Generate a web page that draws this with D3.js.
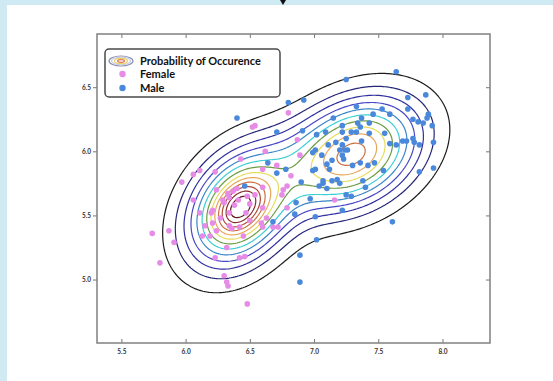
<!DOCTYPE html>
<html>
<head>
<meta charset="utf-8">
<script src="https://cdn.jsdelivr.net/npm/d3@7"></script>
<style>
  body { margin: 0; background: #cfeaf3; }
  svg { display: block; }
  .tick text { font-family: Lato, "DejaVu Sans", sans-serif; font-weight: bold; font-size: 6.5px; fill: #333; }
  .legend text { font-family: Lato, "DejaVu Sans", sans-serif; font-weight: bold; font-size: 11px; fill: #111; }
</style>
</head>
<body>
<div id="chart"></div>
<script>
const svgWidth = 553
const svgHeight = 381

const xTicks = [5.5, 6.0, 6.5, 7.0, 7.5, 8.0]
const yTicks = [5.0, 5.5, 6.0, 6.5]

// female points
const femaleX = [6.54, 6.52, 6.80, 6.62, 6.43, 6.71, 6.60, 6.11, 6.06, 6.23, 5.97, 6.82, 6.87, 6.89, 6.79,
  6.24, 6.33, 6.34, 6.37, 6.40, 6.48, 6.60, 6.75, 6.76, 6.06, 6.21, 6.29, 6.30, 6.41, 6.60, 6.79,
  6.11, 6.20, 6.34, 6.63, 6.59, 6.21, 6.34, 6.42, 6.24, 5.74, 5.87, 5.91, 6.13, 6.19, 6.60, 6.72,
  6.32, 6.23, 6.42, 6.46, 5.80, 6.30, 6.32, 6.33, 6.48, 6.47, 6.36, 6.45, 6.68, 7.16,
  6.50, 6.54, 6.38, 6.27, 6.15, 6.50]
const femaleY = [6.20, 6.19, 6.30, 6.00, 5.94, 5.89, 5.86, 5.85, 5.82, 5.84, 5.76, 5.81, 6.09, 5.97, 5.73,
  5.70, 5.67, 5.64, 5.69, 5.71, 5.65, 5.72, 5.66, 5.70, 5.62, 5.54, 5.62, 5.60, 5.62, 5.56, 5.56,
  5.52, 5.52, 5.52, 5.48, 5.44, 5.44, 5.42, 5.41, 5.38, 5.36, 5.38, 5.29, 5.34, 5.34, 5.41, 5.41,
  5.25, 5.17, 5.17, 5.18, 5.13, 5.03, 4.98, 4.95, 4.81, 5.52, 5.40, 5.34, 5.41, 5.62,
  5.59, 5.66, 5.58, 5.48, 5.42, 5.46]

// male points
const maleX = [6.40, 6.80, 6.71, 6.64, 6.78, 6.71, 6.91, 7.02, 7.01, 7.06, 6.90, 6.99, 6.46, 6.86, 6.68,
  6.89, 7.02, 6.89, 7.64, 7.25, 7.87, 7.73, 6.92, 7.33, 7.15, 7.46, 7.53, 7.59, 7.73, 7.89, 7.88,
  7.77, 7.81, 7.85, 7.92, 7.37, 7.43, 7.34, 7.36, 7.29, 7.33, 7.09, 7.22, 7.22, 7.25, 7.37, 7.43,
  7.55, 7.59, 7.64, 7.69, 7.72, 7.77, 7.78, 7.93, 7.82, 7.17, 7.22, 7.24, 7.26, 7.20, 7.11, 6.99,
  7.10, 7.12, 7.14, 7.01, 7.23, 7.22, 7.30, 7.36, 7.42, 7.47, 7.54, 7.82, 7.93, 7.04, 7.07, 7.10,
  7.14, 7.18, 7.20, 7.07, 7.38, 7.25, 7.29, 6.97, 6.85, 7.01, 7.22, 7.61, 7.40]
const maleY = [6.26, 6.38, 6.15, 5.91, 5.86, 5.83, 6.16, 6.13, 6.01, 5.97, 5.76, 5.85, 5.73, 5.60, 5.45,
  5.19, 5.31, 4.98, 6.62, 6.56, 6.44, 6.42, 6.40, 6.35, 6.26, 6.29, 6.33, 6.29, 6.33, 6.29, 6.26,
  6.25, 6.23, 6.22, 6.20, 6.26, 6.22, 6.22, 6.19, 6.15, 6.15, 6.15, 6.15, 6.20, 6.10, 6.08, 6.14,
  6.14, 6.06, 6.05, 6.08, 6.08, 6.10, 6.07, 6.07, 6.05, 6.07, 6.05, 6.01, 6.01, 6.01, 6.05, 5.99,
  5.90, 5.86, 5.93, 5.86, 5.94, 5.97, 5.89, 5.91, 5.89, 5.91, 5.85, 5.84, 5.87, 5.73, 5.75, 5.71,
  5.77, 5.78, 5.75, 5.77, 5.77, 5.66, 5.65, 5.63, 5.51, 5.49, 5.54, 5.45, 5.72]

// mixture behind the contours: female spread, female core, male
const compMeanX = [6.42, 6.42, 7.30]
const compMeanY = [5.56, 5.56, 5.98]
const compSdX = [0.28, 0.125, 0.35]
const compSdY = [0.31, 0.135, 0.29]
const compRho = [0.3, 0.35, 0.3]
const compHeight = [0.72, 0.28, 0.76]

// contour levels as share of the peak density, outer to inner
const levelShare = [1, 2, 3, 4, 5, 6, 7, 8, 9, 10, 11, 12, 13].map(k => k / 14)
const levelColors = ['#1c1c1c', '#262678', '#3030a0', '#4848c4', '#3a86c8', '#3ccfd4', '#6c9c44',
  '#e6dc5c', '#e8a85c', '#cc7040', '#b04838', '#8a2c2c', '#5a1c1c']

const svg = d3.select("#chart").append("svg")
  .attr("width", svgWidth)
  .attr("height", svgHeight)

svg.append("rect").attr("x", 7).attr("y", 5).attr("width", svgWidth - 7).attr("height", svgHeight - 5).attr("fill", "#fff")
svg.append("path").attr("d", "M280,0 L286,0 L283,5 Z").attr("fill", "#111")

const x = d3.scaleLinear().domain([5.31, 8.37]).range([97, 490])
const y = d3.scaleLinear().domain([4.505, 6.915]).range([343, 34])

const female = femaleX.map((v, i) => [v, femaleY[i]])
const male = maleX.map((v, i) => [v, maleY[i]])

function mixture(px, py) {
  let s = 0
  for (let k = 0; k < compHeight.length; k++) {
    const zx = (px - compMeanX[k]) / compSdX[k]
    const zy = (py - compMeanY[k]) / compSdY[k]
    const r = compRho[k]
    const q = (zx * zx - 2 * r * zx * zy + zy * zy) / (1 - r * r)
    s += compHeight[k] * Math.exp(-0.5 * q)
  }
  return s
}

const step = 2
const x0 = 97, y0 = 34
const nx = Math.ceil((490 - x0) / step) + 1
const ny = Math.ceil((343 - y0) / step) + 1
const grid = new Float64Array(nx * ny)
for (let j = 0; j < ny; j++) {
  const gy = y.invert(y0 + j * step)
  for (let i = 0; i < nx; i++) {
    grid[j * nx + i] = mixture(x.invert(x0 + i * step), gy)
  }
}
const peak = d3.max(grid)

const contours = d3.contours()
  .size([nx, ny])
  .thresholds(levelShare.map(s => s * peak))(grid)

const proj = d3.geoIdentity().scale(step).translate([x0 - step / 2, y0 - step / 2])
const path = d3.geoPath(proj)

svg.append("defs").append("clipPath").attr("id", "plotClip")
  .append("rect").attr("x", 97).attr("y", 34).attr("width", 393).attr("height", 309)

svg.append("g").attr("clip-path", "url(#plotClip)")
  .selectAll("path")
  .data(contours)
  .enter()
  .append("path")
  .attr("d", path)
  .attr("fill", "none")
  .attr("stroke", (d, i) => levelColors[i])
  .attr("stroke-width", 1.2)

svg.append("g").selectAll("circle")
  .data(female)
  .enter()
  .append("circle")
  .attr("cx", d => x(d[0]))
  .attr("cy", d => y(d[1]))
  .attr("r", 2.8)
  .attr("fill", "#e68ce6")

svg.append("g").selectAll("circle")
  .data(male)
  .enter()
  .append("circle")
  .attr("cx", d => x(d[0]))
  .attr("cy", d => y(d[1]))
  .attr("r", 2.8)
  .attr("fill", "#4a88dc")

// axes
svg.append("g").attr("transform", "translate(0,343)")
  .call(d3.axisBottom(x).tickValues(xTicks).tickSize(-4).tickPadding(6).tickFormat(d3.format(".1f")))
svg.append("g").attr("transform", "translate(0,34)")
  .call(d3.axisTop(x).tickValues(xTicks).tickSize(-4).tickFormat(""))
svg.append("g").attr("transform", "translate(97,0)")
  .call(d3.axisLeft(y).tickValues(yTicks).tickSize(4).tickPadding(2).tickFormat(d3.format(".1f")))
svg.append("g").attr("transform", "translate(490,0)")
  .call(d3.axisRight(y).tickValues(yTicks).tickSize(-4).tickFormat(""))
svg.selectAll(".domain").remove()
svg.selectAll(".tick line").attr("stroke", "#777").attr("stroke-width", 1)

svg.append("rect")
  .attr("x", 97).attr("y", 34).attr("width", 393).attr("height", 309)
  .attr("fill", "none").attr("stroke", "#808080").attr("stroke-width", 1.5)

// legend
const legend = svg.append("g").attr("class", "legend")
legend.append("rect")
  .attr("x", 105).attr("y", 49).attr("width", 175).attr("height", 48).attr("rx", 4)
  .attr("fill", "#fff").attr("stroke", "#4a4a4a").attr("stroke-width", 1.5)
const icon = [[12, 5, '#8a90b4'], [9.5, 3.8, '#c8cce0'], [6.5, 2.6, '#e8d070'], [3.5, 1.4, '#e07a50']]
icon.forEach(e => {
  legend.append("ellipse").attr("cx", 121).attr("cy", 61).attr("rx", e[0]).attr("ry", e[1])
    .attr("fill", "none").attr("stroke", e[2]).attr("stroke-width", 1.2)
})
legend.append("circle").attr("cx", 122.5).attr("cy", 74).attr("r", 3.2).attr("fill", "#e68ce6")
legend.append("circle").attr("cx", 122.5).attr("cy", 88).attr("r", 3.2).attr("fill", "#4a88dc")
legend.append("text").attr("x", 140).attr("y", 64.5).text("Probability of Occurence")
legend.append("text").attr("x", 140).attr("y", 78).text("Female")
legend.append("text").attr("x", 140).attr("y", 92).text("Male")
</script>
</body>
</html>
